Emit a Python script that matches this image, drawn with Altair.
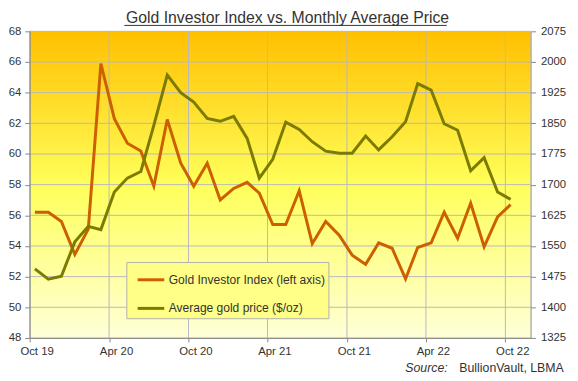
import altair as alt
import pandas as pd

# ---------------- data ----------------
months = [
    "2019/10/13", "2019/11/13", "2019/12/13",
    "2020/01/13", "2020/02/13", "2020/03/13", "2020/04/13", "2020/05/13", "2020/06/13",
    "2020/07/13", "2020/08/13", "2020/09/13", "2020/10/13", "2020/11/13", "2020/12/13",
    "2021/01/13", "2021/02/13", "2021/03/13", "2021/04/13", "2021/05/13", "2021/06/13",
    "2021/07/13", "2021/08/13", "2021/09/13", "2021/10/13", "2021/11/13", "2021/12/13",
    "2022/01/13", "2022/02/13", "2022/03/13", "2022/04/13", "2022/05/13", "2022/06/13",
    "2022/07/13", "2022/08/13", "2022/09/13", "2022/10/13",
]
investor_index = [
    56.2, 56.2, 55.6, 53.45, 55.1, 65.9, 62.3, 60.7, 60.2, 57.9, 62.25, 59.4,
    57.9, 59.4, 57.0, 57.75, 58.15, 57.45, 55.4, 55.4, 57.6, 54.15, 55.6, 54.7,
    53.4, 52.8, 54.2, 53.85, 51.85, 53.9, 54.2, 56.2, 54.5, 56.8, 53.95, 55.9, 56.7,
]
gold_price = [
    1494, 1469, 1476, 1560, 1598, 1590, 1682, 1716, 1732, 1845, 1968, 1925,
    1902, 1862, 1855, 1867, 1813, 1716, 1762, 1853, 1835, 1805, 1782, 1777,
    1777, 1819, 1785, 1817, 1854, 1947, 1931, 1849, 1833, 1734, 1766, 1682, 1664,
]
series_names = ["Gold Investor Index (left axis)", "Average gold price ($/oz)"]
series_colors = ["#CC5F00", "#7B7B00"]

x_tick_dates = ["2019/10/01", "2020/04/01", "2020/10/01", "2021/04/01",
                "2021/10/01", "2022/04/01", "2022/10/01"]
x_tick_parts = [(2019, 10), (2020, 4), (2020, 10), (2021, 4), (2021, 10), (2022, 4), (2022, 10)]
left_ticks = [48, 50, 52, 54, 56, 58, 60, 62, 64, 66, 68]
right_ticks = [1325, 1400, 1475, 1550, 1625, 1700, 1775, 1850, 1925, 2000, 2075]

title_text = "Gold Investor Index vs. Monthly Average Price"
source_label = "Source:"
source_text = "BullionVault, LBMA"

# ---------------- styling ----------------
W, H = 508, 311
FONT = "Liberation Sans"
TXT = "#333333"
GRID = "#B8B8C0"
AXC = "#888888"

df = pd.DataFrame({"date": months, "gii": investor_index, "price": gold_price})

xscale = alt.Scale(domain=[alt.DateTime(year=2019, month=10, date=1),
                           alt.DateTime(year=2022, month=11, date=28)])
x_axis = alt.Axis(
    values=[alt.DateTime(year=y, month=m, date=1) for y, m in x_tick_parts],
    format="%b %y", grid=False, title=None, zindex=1,
    domainColor=AXC, tickColor=AXC, tickSize=4, labelPadding=4,
    labelFont=FONT, labelFontSize=11.5, labelColor=TXT,
    labelFlush=False, labelOffset=7,
)
left_scale = alt.Scale(domain=[48, 68], nice=False, zero=False)
right_scale = alt.Scale(domain=[1325, 2075], nice=False, zero=False)
left_axis = alt.Axis(
    orient="left", values=left_ticks, grid=False, title=None, zindex=1,
    domainColor=AXC, tickColor=AXC, tickSize=5, labelPadding=4,
    labelFont=FONT, labelFontSize=11.5, labelColor=TXT,
)
right_axis = alt.Axis(
    orient="right", values=right_ticks, grid=False, title=None, zindex=1,
    format="d",
    domainColor=AXC, tickColor=AXC, tickSize=5, labelPadding=5,
    labelFont=FONT, labelFontSize=11.5, labelColor=TXT,
)
color_scale = alt.Scale(domain=series_names, range=series_colors)
legend = alt.Legend(
    title=None, orient="none", legendX=98, legendY=234,
    symbolType="stroke", symbolStrokeWidth=3, symbolSize=729,
    symbolOffset=7, labelOffset=3, padding=3, rowPadding=7,
    labelFont=FONT, labelFontSize=12.2, labelColor=TXT,
    fillColor="#FFFF88", strokeColor="#B0B0B0",
)

gradient = alt.LinearGradient(
    gradient="linear", x1=0, x2=0, y1=0, y2=1,
    stops=[
        alt.GradientStop(offset=0, color="#FFC000"),
        alt.GradientStop(offset=0.5, color="#FFFF5A"),
        alt.GradientStop(offset=1, color="#FFFFD8"),
    ],
)

one = pd.DataFrame({"k": [0]})
bg = alt.Chart(one).mark_rect(fill=gradient).encode(
    x=alt.value(0), x2=alt.value(W), y=alt.value(0), y2=alt.value(H)
)
hgrid = alt.Chart(pd.DataFrame({"v": left_ticks})).mark_rule(
    color=GRID, strokeWidth=1
).encode(y=alt.Y("v:Q", scale=left_scale, axis=left_axis))
vgrid = alt.Chart(pd.DataFrame({"d": x_tick_dates})).mark_rule(
    color=GRID, strokeWidth=1
).encode(x=alt.X("d:T", scale=xscale, axis=x_axis))

gii_line = alt.Chart(df).transform_calculate(
    series=f"'{series_names[0]}'"
).mark_line(strokeWidth=3).encode(
    x=alt.X("date:T", scale=xscale, axis=x_axis),
    y=alt.Y("gii:Q", scale=left_scale, axis=left_axis),
    color=alt.Color("series:N", scale=color_scale, legend=legend),
)
price_line = alt.Chart(df).transform_calculate(
    series=f"'{series_names[1]}'"
).mark_line(strokeWidth=3).encode(
    x=alt.X("date:T", scale=xscale, axis=x_axis),
    y=alt.Y("price:Q", scale=right_scale, axis=right_axis),
    color=alt.Color("series:N", scale=color_scale, legend=legend),
)

title = alt.Chart(pd.DataFrame({"t": [title_text]})).mark_text(
    font=FONT, fontSize=16, color=TXT, align="center", baseline="alphabetic"
).encode(text="t:N", x=alt.value(261.5), y=alt.value(-8.3))
underline = alt.Chart(one).mark_rule(color=TXT, strokeWidth=1).encode(
    x=alt.value(96), x2=alt.value(423), y=alt.value(-6)
)
src1 = alt.Chart(pd.DataFrame({"t": [source_label]})).mark_text(
    font=FONT, fontSize=12.5, fontStyle="italic", color=TXT, align="right",
    baseline="alphabetic"
).encode(text="t:N", x=alt.value(424), y=alt.value(346))
src2 = alt.Chart(pd.DataFrame({"t": [source_text]})).mark_text(
    font=FONT, fontSize=12.5, color=TXT, align="right", baseline="alphabetic"
).encode(text="t:N", x=alt.value(541.7), y=alt.value(346))

left = alt.layer(bg, hgrid, vgrid, gii_line, title, underline, src1, src2)
chart = alt.layer(left, price_line).resolve_scale(y="independent").properties(
    width=W, height=H,
    autosize=alt.AutoSizeParams(type="none"),
    padding={"left": 22, "top": 21, "right": 40, "bottom": 41},
).configure_view(stroke=None)

chart.save("out.html", embed_options={"renderer": "svg", "actions": False})
